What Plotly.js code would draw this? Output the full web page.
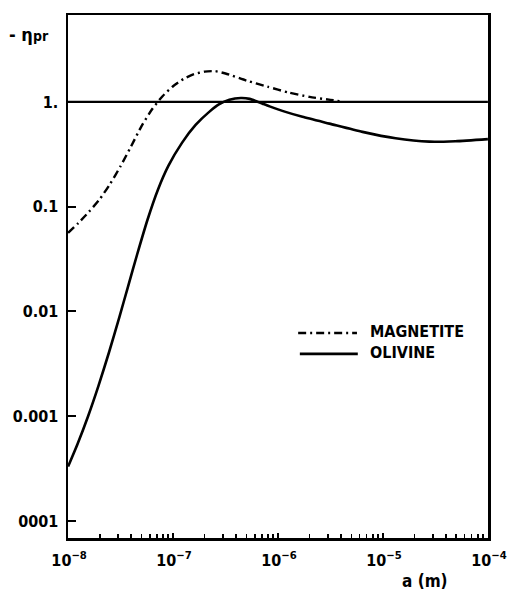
<!DOCTYPE html>
<html>
<head>
<meta charset="utf-8">
<script src="https://cdn.plot.ly/plotly-3.0.1.min.js"></script>
<style>
  html, body { margin: 0; padding: 0; background: #fff; }
  #chart { width: 510px; height: 592px; }
</style>
</head>
<body>
<div id="chart"></div>
<script>
// Radiation pressure efficiency -eta_pr versus grain radius a (m)
const seriesNames = ['MAGNETITE', 'OLIVINE'];

const magnetiteA = [1.0e-8, 1.26e-8, 1.58e-8, 2.0e-8, 2.51e-8, 3.16e-8, 3.98e-8, 5.01e-8,
  6.31e-8, 7.94e-8, 1.0e-7, 1.26e-7, 1.58e-7, 2.0e-7, 2.51e-7, 3.16e-7, 5.01e-7,
  7.94e-7, 1.26e-6, 2.0e-6, 3.16e-6, 4.11e-6];
const magnetiteEta = [0.0562, 0.0703, 0.0895, 0.118, 0.165, 0.244, 0.376, 0.589,
  0.851, 1.135, 1.413, 1.66, 1.84, 1.95, 1.97, 1.87, 1.60,
  1.40, 1.23, 1.117, 1.047, 1.01];

const olivineA = [1.0e-8, 1.23e-8, 1.55e-8, 1.95e-8, 2.45e-8, 3.08e-8, 3.73e-8, 4.54e-8,
  5.73e-8, 7.19e-8, 9.02e-8, 1.22e-7, 1.64e-7, 2.21e-7, 2.76e-7, 3.44e-7, 4.42e-7,
  5.37e-7, 7.13e-7, 8.32e-7, 1.18e-6, 1.71e-6, 3.09e-6, 6.38e-6, 1.32e-5, 2.77e-5,
  4.90e-5, 1.0e-4];
const olivineEta = [3.31e-4, 5.43e-4, 1.0e-3, 1.96e-3, 4.06e-3, 8.85e-3, 0.0174, 0.0348,
  0.0759, 0.146, 0.245, 0.409, 0.603, 0.804, 0.951, 1.047, 1.09,
  1.07, 0.962, 0.908, 0.804, 0.721, 0.621, 0.518, 0.45, 0.418,
  0.422, 0.442];

// unity reference line
const unityA = [1e-8, 1e-4];
const unityEta = [1, 1];

// axis ticks
const xTickVals = [1e-8, 1e-7, 1e-6, 1e-5, 1e-4];
const xTickText = ['10<sup>−8</sup>', '10<sup>−7</sup>', '10<sup>−6</sup>', '10<sup>−5</sup>', '10<sup>−4</sup>'];
const xLongTickVals = [2e-8, 2e-7, 2e-6, 2e-5];
const xMinorTickVals = [];
[1e-8, 1e-7, 1e-6, 1e-5].forEach(d => { for (let k = 2; k <= 9; k++) xMinorTickVals.push(k * d); });
const yTickVals = [1e-4, 1e-3, 1e-2, 1e-1, 1];
const yTickText = ['0001', '0.001', '0.01', '0.1', '1.'];

const FONT = 'DejaVu Sans Condensed, DejaVu Sans, sans-serif';
const INK = '#000';
const X_RANGE = [-8.001, -3.999];

const traces = [
  { x: unityA, y: unityEta, mode: 'lines', showlegend: false, hoverinfo: 'skip',
    line: { color: INK, width: 2.2 } },
  { x: magnetiteA, y: magnetiteEta, name: seriesNames[0], mode: 'lines', showlegend: false,
    line: { color: INK, width: 2.4, dash: '8px,4px,2px,4px', shape: 'spline', smoothing: 0.6 } },
  { x: olivineA, y: olivineEta, name: seriesNames[1], mode: 'lines', showlegend: false,
    line: { color: INK, width: 2.6, shape: 'spline', smoothing: 0.6 } }
];

const layout = {
  width: 510, height: 592,
  margin: { l: 68, r: 22, t: 15, b: 54 },
  paper_bgcolor: '#fff', plot_bgcolor: '#fff',
  font: { family: FONT, color: INK, size: 15, weight: 'bold' },
  showlegend: false,
  xaxis: {
    type: 'log', range: X_RANGE,
    showgrid: false, zeroline: false,
    showline: true, mirror: true, linecolor: INK, linewidth: 2.5,
    tickmode: 'array', tickvals: xTickVals, ticktext: xTickText,
    ticks: 'inside', ticklen: 5, tickwidth: 1.8, tickcolor: INK,
    ticklabelshift: 1, ticklabelstandoff: 6, ticklabeloverflow: 'allow',
    tickfont: { family: FONT, size: 16, weight: 'bold' },
    minor: { tickmode: 'array', tickvals: xMinorTickVals, ticks: 'inside', ticklen: 4,
             tickwidth: 1.6, tickcolor: INK, showgrid: false }
  },
  xaxis2: {
    type: 'log', range: X_RANGE, overlaying: 'x', anchor: 'y', side: 'bottom',
    showgrid: false, zeroline: false, showline: false,
    tickmode: 'array', tickvals: xLongTickVals, showticklabels: false,
    ticks: 'inside', ticklen: 9, tickwidth: 1.8, tickcolor: INK
  },
  yaxis: {
    type: 'log', range: [-4.162, 0.83],
    showgrid: false, zeroline: false,
    showline: true, mirror: true, linecolor: INK, linewidth: 2.5,
    tickmode: 'array', tickvals: yTickVals, ticktext: yTickText,
    ticks: 'inside', ticklen: 8, tickwidth: 2, tickcolor: INK,
    ticklabelstandoff: 4,
    tickfont: { family: FONT, size: 16, weight: 'bold' }
  },
  shapes: [
    { type: 'line', xref: 'paper', yref: 'paper', x0: 0.548, x1: 0.688, y0: 0.392, y1: 0.392,
      line: { color: INK, width: 2.4, dash: '8px,4px,2px,4px' } },
    { type: 'line', xref: 'paper', yref: 'paper', x0: 0.552, x1: 0.690, y0: 0.352, y1: 0.352,
      line: { color: INK, width: 2.6 } }
  ],
  annotations: [
    { xref: 'paper', yref: 'paper', x: 0.714, y: 0.394, xanchor: 'left', yanchor: 'middle',
      text: seriesNames[0], showarrow: false, font: { family: FONT, size: 16, weight: 'bold' } },
    { xref: 'paper', yref: 'paper', x: 0.714, y: 0.354, xanchor: 'left', yanchor: 'middle',
      text: seriesNames[1], showarrow: false, font: { family: FONT, size: 16, weight: 'bold' } },
    { xref: 'paper', yref: 'paper', x: -0.145, y: 0.962, xanchor: 'left', yanchor: 'middle',
      text: '- η<span style="font-size:14px">pr</span>', showarrow: false,
      font: { family: FONT, size: 18, weight: 'bold' } },
    { xref: 'paper', yref: 'paper', x: 0.79, y: -0.083, xanchor: 'left', yanchor: 'middle',
      text: 'a (m)', showarrow: false, font: { family: FONT, size: 17, weight: 'bold' } }
  ]
};

Plotly.newPlot('chart', traces, layout, { staticPlot: true, displayModeBar: false });
</script>
</body>
</html>
